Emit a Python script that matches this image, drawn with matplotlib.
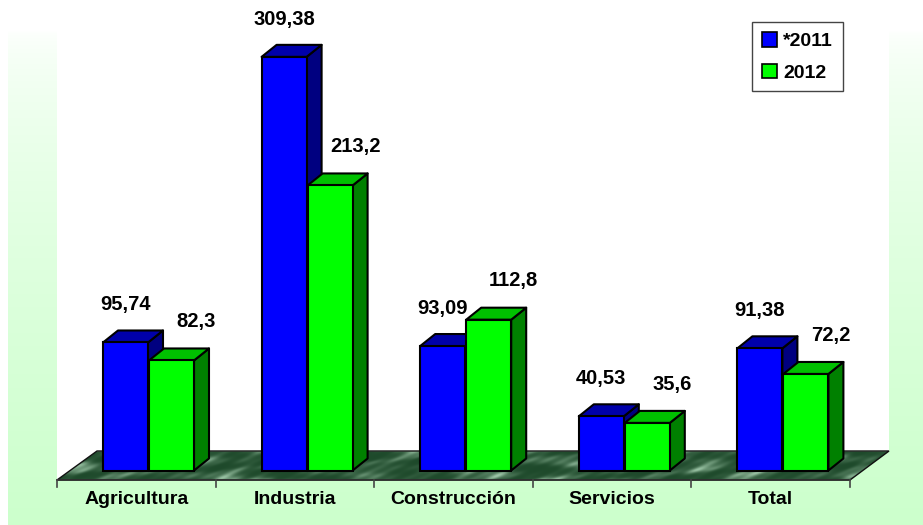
import numpy as np
import matplotlib
matplotlib.use('Agg')
import matplotlib.pyplot as plt
from matplotlib.patches import Polygon, Rectangle, Patch

plt.rcParams['font.family'] = ['Liberation Sans', 'DejaVu Sans']
plt.rcParams['font.weight'] = 'bold'

categories = ['Agricultura', 'Industria', 'Construcción', 'Servicios', 'Total']
series_names = ['*2011', '2012']
values_2011 = [95.74, 309.38, 93.09, 40.53, 91.38]
values_2012 = [82.3, 213.2, 112.8, 35.6, 72.2]

W, H = 923, 525
fig = plt.figure(figsize=(W / 100, H / 100), dpi=100)
ax = fig.add_axes([0, 0, 1, 1])
ax.set_axis_off()

# pixel <-> data layout (category units on x, values on y)
X0, PXC = 57.0, 158.6       # px of category 0 and px per category
BASE, K = 470.5, 1.337      # px of value 0 and px per unit
def dx(px): return px / PXC
def dy(px): return px / K
def X(px): return (px - X0) / PXC
def Y(px): return (BASE - px) / K

ax.set_xlim(X(0), X(W))
ax.set_ylim(Y(H), Y(0))

# page background: white above, soft green gradient box
grad = np.linspace(0, 1, 256) ** 0.6
col = np.ones((256, 1, 3))
col[:, 0, 0] = 1 - 0.2 * grad
col[:, 0, 2] = 1 - 0.2 * grad
ax.imshow(col, extent=(X(8), X(W), Y(H), Y(30)), aspect='auto', zorder=0,
          interpolation='bilinear')

# white back wall of the chart
ax.add_patch(Polygon([(X(57), Y(0)), (X(889), Y(0)), (X(889), Y(451)),
                      (X(57), Y(480))], closed=True, fc='white', ec='none', zorder=1))

# floor with a dark marble texture, light streaks running diagonally
floor = [(X(57), Y(480)), (X(97), Y(451)), (X(889), Y(451)), (X(850), Y(480))]
fpoly = Polygon(floor, closed=True, fc='none', ec='#111111', lw=1.0, zorder=3)
gx, gy = np.meshgrid(np.arange(0, 840), np.arange(0, 32))
u = gx + 1.6 * gy
m = (np.sin(u * 0.06 + 2.0 * np.sin(gy * 0.25 + gx * 0.011))
     + 0.7 * np.sin(u * 0.13 + 1.5 * np.sin(gx * 0.031))
     + 0.5 * np.sin(gx * 0.021 - gy * 0.3)
     + 0.35 * np.sin(u * 0.37 + gy * 0.2))
m = (m - m.min()) / (m.max() - m.min())
m = m ** 3.0
dark = np.array([0.12, 0.29, 0.17])
light = np.array([0.62, 0.78, 0.66])
tex = dark + m[..., None] * (light - dark)
tex[:2] = tex[:2] * 0.5 + 0.5 * light   # lighter rim along the back edge
im = ax.imshow(tex, extent=(X(55), X(892), Y(482), Y(450)), aspect='auto',
               zorder=2, interpolation='bilinear')
im.set_clip_path(Polygon(floor, closed=True, transform=ax.transData))
ax.add_patch(fpoly)

# category axis line and ticks
ax.plot([0, len(categories)], [Y(480), Y(480)], color='#333333', lw=1.2, zorder=4)
for i in range(len(categories) + 1):
    ax.plot([i, i], [Y(480), Y(487)], color='#444444', lw=1.2, zorder=4)
for i, c in enumerate(categories):
    ax.text(i + 0.5, Y(500), c, ha='center', va='center', fontsize=14,
            fontweight='bold', zorder=5)

# 3D bars
bw = dx(45)
ddx, ddy = dx(15), dy(12)
shift = dx(46)
styles = [('#0000ff', '#0000aa', '#000080'), ('#00ff00', '#00c000', '#008000')]

def bar3d(x, v, front, top, side):
    kw = dict(closed=True, ec='black', lw=1.5, joinstyle='round', zorder=6)
    ax.add_patch(Polygon([(x + bw, 0), (x + bw + ddx, ddy), (x + bw + ddx, v + ddy),
                          (x + bw, v)], fc=side, **kw))
    ax.add_patch(Polygon([(x, v), (x + ddx, v + ddy), (x + bw + ddx, v + ddy),
                          (x + bw, v)], fc=top, **kw))
    ax.add_patch(Rectangle((x, 0), bw, v, fc=front, ec='black', lw=1.5, zorder=6))

for i in range(len(categories)):
    xb = i + X(103)
    for s, vals in enumerate([values_2011, values_2012]):
        x = xb + s * shift
        bar3d(x, vals[i], *styles[s])
        off = (0, 27) if s == 0 else (18, 28)
        ax.annotate(str(vals[i]).replace('.', ','), (x + bw / 2, vals[i]),
                    xytext=off, textcoords='offset points', ha='center',
                    va='center', fontsize=14.5, fontweight='bold', zorder=7)

handles = [Patch(fc=styles[0][0], ec='black', lw=1.2),
           Patch(fc=styles[1][0], ec='black', lw=1.2)]
leg = ax.legend(handles, series_names, loc='upper left',
                bbox_to_anchor=(752 / W, 1 - 22 / H), bbox_transform=fig.transFigure,
                borderaxespad=0, fancybox=False, framealpha=1, edgecolor='#444444',
                handlelength=0.8, handleheight=0.8, handletextpad=0.3,
                labelspacing=0.7, borderpad=0.5, prop={'size': 14, 'weight': 'bold'})
leg.get_frame().set_linewidth(1.0)
leg.set_zorder(8)

fig.savefig('out.png', dpi=100)
